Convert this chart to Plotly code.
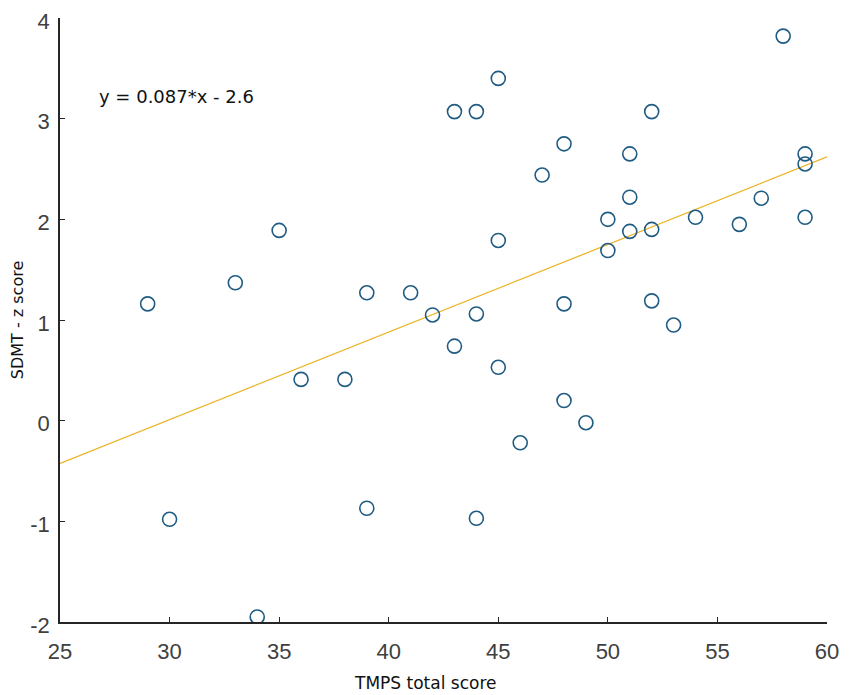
import plotly.graph_objects as go

# TMPS total score vs SDMT z score
tmps = [29, 30, 33, 34, 35, 36, 38, 39, 39, 41, 42, 43, 43, 44, 44, 44,
        45, 45, 45, 46, 47, 48, 48, 48, 49, 50, 50, 51, 51, 51, 52, 52, 52,
        53, 54, 56, 57, 58, 59, 59, 59]
sdmt = [1.16, -0.98, 1.37, -1.95, 1.89, 0.41, 0.41, 1.27, -0.87, 1.27, 1.05,
        3.07, 0.74, 3.07, 1.06, -0.97, 3.40, 1.79, 0.53, -0.22, 2.44, 2.75,
        1.16, 0.20, -0.02, 2.00, 1.69, 2.65, 2.22, 1.88, 3.07, 1.90, 1.19,
        0.95, 2.02, 1.95, 2.21, 3.82, 2.65, 2.55, 2.02]

x_ticks = [25, 30, 35, 40, 45, 50, 55, 60]
y_ticks = [-2, -1, 0, 1, 2, 3, 4]
y_ticklabels = ['-2', '-1', '0', '1', '2', '3', '4']

slope = 0.087
intercept = -2.6
fit_x = [25, 60]
fit_y = [slope * v + intercept for v in fit_x]

fig = go.Figure()
fig.add_trace(go.Scatter(
    x=fit_x, y=fit_y, mode='lines',
    line=dict(color='#EDB120', width=1.2),
    hoverinfo='skip'
))
fig.add_trace(go.Scatter(
    x=tmps, y=sdmt, mode='markers',
    marker=dict(symbol='circle-open', size=14, color='#1f5b82',
                line=dict(width=1.6, color='#1f5b82'))
))

fig.add_annotation(
    x=26.7, y=3.22, xref='x', yref='y', xanchor='left', yanchor='middle',
    text='y = 0.087*x - 2.6', showarrow=False,
    font=dict(family='DejaVu Sans', size=18, color='#111111')
)

# x title sits a bit left of the plot centre in the original
fig.add_annotation(
    x=0.476, y=0, xref='paper', yref='paper', xanchor='center', yanchor='middle',
    yshift=-61, text='TMPS total score', showarrow=False,
    font=dict(family='DejaVu Sans', size=17, color='#111111')
)

axis_common = dict(
    showgrid=False, zeroline=False, showline=True, linecolor='#262626',
    linewidth=1.5, ticks='inside', ticklen=5, tickwidth=1.2,
    tickcolor='#262626', mirror=False, automargin=False,
    ticklabeloverflow='allow',
    tickfont=dict(family='Liberation Sans', size=22, color='#404040')
)

# page body adds an 8px offset, so margins are shifted to compensate
fig.update_layout(
    width=850, height=695,
    margin=dict(l=52, r=31, t=10, b=81),
    paper_bgcolor='white', plot_bgcolor='white',
    showlegend=False,
    xaxis=dict(range=[25, 60], tickvals=x_ticks, ticklabelstandoff=9,
               **axis_common),
    yaxis=dict(range=[-2, 4], tickvals=y_ticks, ticktext=y_ticklabels,
               ticklabelstandoff=4, ticklabelshift=3,
               title=dict(text='SDMT - z score', standoff=11,
                          font=dict(family='DejaVu Sans', size=16, color='#111111')),
               **axis_common),
)

fig.write_html("out.html")
